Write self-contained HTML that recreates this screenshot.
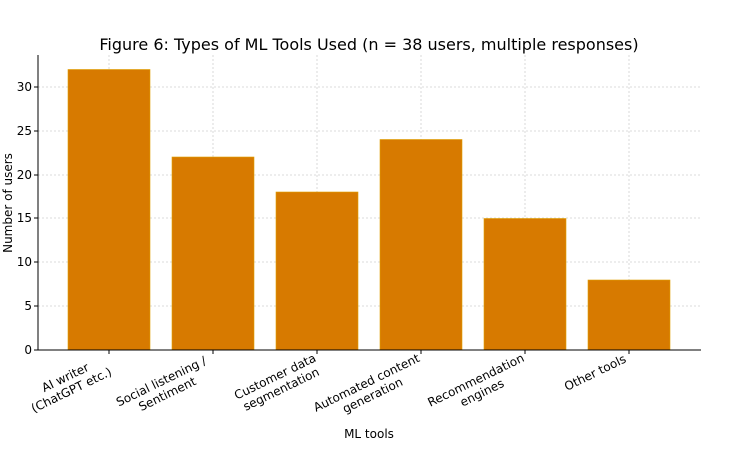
<!DOCTYPE html>
<html><head><meta charset="utf-8"><style>body{margin:0;background:#fff}svg{display:block}text{font-family:"DejaVu Sans","Liberation Sans",sans-serif;fill:#000}</style></head>
<body>
<svg width="745" height="450" viewBox="0 0 745 450" xmlns="http://www.w3.org/2000/svg">
<rect width="745" height="450" fill="#fff"/>
<g stroke="#d0d0d0" stroke-width="0.8" stroke-dasharray="2,2">
<line x1="38" x2="701" y1="306" y2="306"/><line x1="38" x2="701" y1="262" y2="262"/>
<line x1="38" x2="701" y1="218" y2="218"/><line x1="38" x2="701" y1="175" y2="175"/>
<line x1="38" x2="701" y1="131" y2="131"/><line x1="38" x2="701" y1="87" y2="87"/>
<line x1="109" x2="109" y1="55" y2="350"/><line x1="213" x2="213" y1="55" y2="350"/>
<line x1="317" x2="317" y1="55" y2="350"/><line x1="421" x2="421" y1="55" y2="350"/>
<line x1="525" x2="525" y1="55" y2="350"/><line x1="629" x2="629" y1="55" y2="350"/>
</g>
<g fill="#d77a00" stroke="#e0a000" stroke-width="0.6">
<rect x="68" y="69.5" width="82" height="280.5"/>
<rect x="172" y="157" width="82" height="193"/>
<rect x="276" y="192" width="82" height="158"/>
<rect x="380" y="139.5" width="82" height="210.5"/>
<rect x="484" y="218.5" width="82" height="131.5"/>
<rect x="588" y="280" width="82" height="70"/>
</g>
<g stroke="#000" stroke-width="1">
<line x1="38" y1="55" x2="38" y2="350.5"/><line x1="37.5" y1="350" x2="701" y2="350"/>
<line x1="34" x2="38" y1="350" y2="350"/><line x1="34" x2="38" y1="306" y2="306"/><line x1="34" x2="38" y1="262" y2="262"/><line x1="34" x2="38" y1="218" y2="218"/><line x1="34" x2="38" y1="175" y2="175"/><line x1="34" x2="38" y1="131" y2="131"/><line x1="34" x2="38" y1="87" y2="87"/>
<line x1="109" x2="109" y1="350" y2="354"/><line x1="213" x2="213" y1="350" y2="354"/><line x1="317" x2="317" y1="350" y2="354"/><line x1="421" x2="421" y1="350" y2="354"/><line x1="525" x2="525" y1="350" y2="354"/><line x1="629" x2="629" y1="350" y2="354"/>
</g>
<g font-size="12" text-anchor="end">
<text x="32" y="354">0</text><text x="32" y="310">5</text><text x="32" y="266">10</text><text x="32" y="222">15</text><text x="32" y="179">20</text><text x="32" y="135">25</text><text x="32" y="91">30</text>
</g>
<g font-size="12" text-anchor="middle">
<g transform="translate(104,352) rotate(-26)"><text x="-46" y="10">AI writer</text><text x="-46" y="24">(ChatGPT etc.)</text></g>
<g transform="translate(208,352) rotate(-26)"><text x="-55" y="10">Social listening /</text><text x="-55" y="24">Sentiment</text></g>
<g transform="translate(312,352) rotate(-26)"><text x="-44" y="10">Customer data</text><text x="-44" y="24">segmentation</text></g>
<g transform="translate(416,352) rotate(-26)"><text x="-58" y="10">Automated content</text><text x="-58" y="24">generation</text></g>
<g transform="translate(520,352) rotate(-26)"><text x="-52" y="10">Recommendation</text><text x="-52" y="24">engines</text></g>
<g transform="translate(624,352) rotate(-26)"><text x="-35" y="10">Other tools</text></g>
</g>
<text x="369" y="438" font-size="12" text-anchor="middle">ML tools</text>
<text transform="translate(12,203) rotate(-90)" font-size="12" text-anchor="middle">Number of users</text>
<text x="369" y="50" font-size="16" text-anchor="middle">Figure 6: Types of ML Tools Used (n = 38 users, multiple responses)</text>
</svg>
</body></html>
